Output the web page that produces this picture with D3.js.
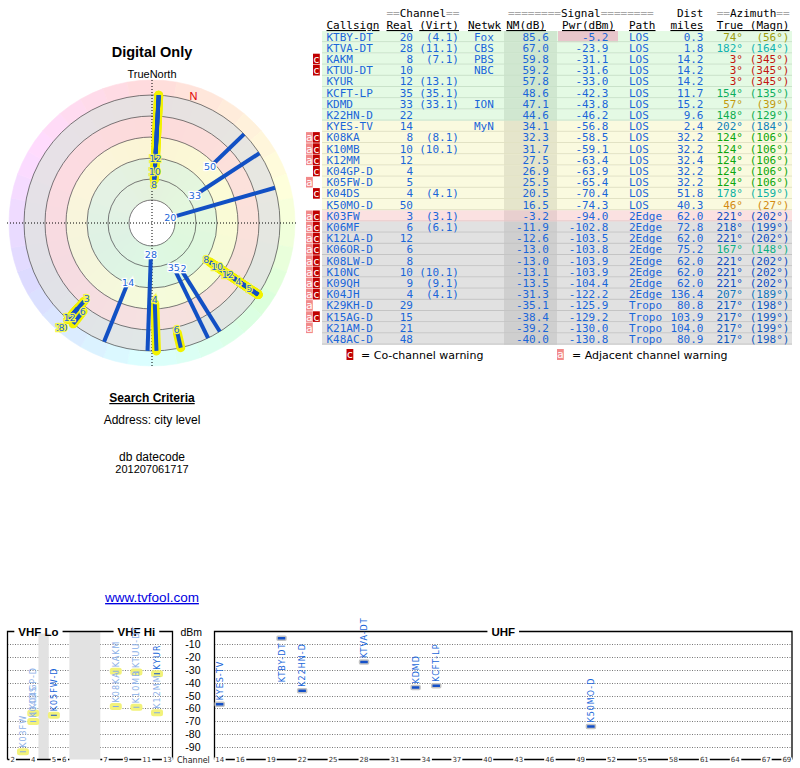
<!DOCTYPE html>
<html><head><meta charset="utf-8">
<script src="https://cdn.jsdelivr.net/npm/d3@7/dist/d3.min.js"></script>
<style>
html,body{margin:0;padding:0;background:#fff;}
svg{display:block;}
</style></head>
<body>
<svg id="chart" width="800" height="768"></svg>
<script>
// ================= DATA =================
const callsigns = ["KTBY-DT","KTVA-DT","KAKM","KTUU-DT","KYUR","KCFT-LP","KDMD","K22HN-D","KYES-TV","K08KA","K10MB","K12MM","K04GP-D","K05FW-D","K04DS","K50MO-D","K03FW","K06MF","K12LA-D","K06OR-D","K08LW-D","K10NC","K09QH","K04JH","K29KH-D","K15AG-D","K21AM-D","K48AC-D"];
const realCh = [20,28,8,10,12,35,33,22,14,8,10,12,4,5,4,50,3,6,12,6,8,10,9,4,29,15,21,48];
const virtCh = ["4.1","11.1","7.1","","13.1","35.1","33.1","","","8.1","10.1","","","","4.1","","3.1","6.1","","","","10.1","9.1","4.1","","","",""];
const networks = ["Fox","CBS","PBS","NBC","","","ION","","MyN","","","","","","","","","","","","","","","","","","",""];
const nmDb = [85.6,67.0,59.8,59.2,57.8,48.6,47.1,44.6,34.1,32.3,31.7,27.5,26.9,25.5,20.5,16.5,-3.2,-11.9,-12.6,-13.0,-13.0,-13.1,-13.5,-31.3,-35.1,-38.4,-39.2,-40.0];
const pwrDbm = [-5.2,-23.9,-31.1,-31.6,-33.0,-42.3,-43.8,-46.2,-56.8,-58.5,-59.1,-63.4,-63.9,-65.4,-70.4,-74.3,-94.0,-102.8,-103.5,-103.8,-103.9,-103.9,-104.4,-122.2,-125.9,-129.2,-130.0,-130.8];
const pathType = ["LOS","LOS","LOS","LOS","LOS","LOS","LOS","LOS","LOS","LOS","LOS","LOS","LOS","LOS","LOS","LOS","2Edge","2Edge","2Edge","2Edge","2Edge","2Edge","2Edge","2Edge","Tropo","Tropo","Tropo","Tropo"];
const distMiles = [0.3,1.8,14.2,14.2,14.2,11.7,15.2,9.6,2.4,32.2,32.2,32.4,32.2,32.2,51.8,40.3,62.0,72.8,62.0,75.2,62.0,62.0,62.0,136.4,80.8,103.9,104.0,80.9];
const azTrue = [74,182,3,3,3,154,57,148,202,124,124,124,124,124,178,46,221,218,221,167,221,221,221,207,217,217,217,217];
const azMagn = [56,164,345,345,345,135,39,129,184,106,106,106,106,106,159,27,202,199,202,148,202,202,202,189,198,199,199,198];
const warnFlags = ["","","c","c","","","","","","ac","ac","ac","c","a","c","","ac","ac","ac","ac","ac","ac","ac","ac","a","ac","a",""];

const ringTicksNM = [80.5,58.7,36.9,15.1,-6.7,-28.5];   // radial scale rings (NM dB)
const polarMinNM = -20;
const dbmTicks = [-10,-20,-30,-40,-50,-60,-70,-80,-90];
const vhfSlots = ["2","3","4","g1","5","6","f1","f2","f3","7","8","9","10","11","12","13"];
const vhfGapSlots = [["g1"],["f1","f2","f3"]];
const vhfBands = [{name:"VHF Lo", from:"2", to:"6"},{name:"VHF Hi", from:"7", to:"13"}];
const vhfTickLabels = ["2","4","5","6","7","9","11","13"];
const uhfChannels = d3.range(14,70);
const uhfTickLabels = [14,16,19,22,25,28,31,34,37,40,43,46,49,52,55,58,61,64,67,69];
const minShownDbm = -100;

// ================= SETUP =================
const svg = d3.select("#chart");
const SANS = "'Liberation Sans', Arial, sans-serif";
const DEJ = "'DejaVu Sans', sans-serif";
const MONO = "'DejaVu Sans Mono', monospace";
const BLUE = "#1a66d9";
const LINEBLUE = "#1250c4";

const st = callsigns.map((c,i)=>({c, ch:realCh[i], virt:virtCh[i], net:networks[i], nm:nmDb[i], pwr:pwrDbm[i],
  path:pathType[i], dist:distMiles[i], az:azTrue[i], azm:azMagn[i], flags:warnFlags[i]}));
const flaggedCh = new Set(st.filter(d=>d.flags).map(d=>d.ch));
st.forEach(d=>{ d.hl = flaggedCh.has(d.ch); d.cochan = d.flags.includes("c"); });

const hueOf = d3.scaleLinear().domain([0,74,124,360]).range([0,60,120,360]);
const lightOf = d3.scaleLinear().domain([0,40,60,90,130,180,230,360]).range([0.41,0.45,0.33,0.33,0.36,0.38,0.42,0.42]);
const azColor = a => { const h = hueOf(a); return d3.hsl(h,0.85,lightOf(h)).formatHex(); };

// ================= LEFT PANEL TEXT =================
svg.append("text").attr("x",152).attr("y",57).attr("text-anchor","middle").attr("font-family",SANS)
  .attr("font-weight","bold").attr("font-size","14.5px").text("Digital Only");
svg.append("text").attr("x",152).attr("y",78).attr("text-anchor","middle").attr("font-family",SANS)
  .attr("font-size","11px").text("TrueNorth");
svg.append("text").attr("x",152).attr("y",402).attr("text-anchor","middle").attr("font-family",SANS)
  .attr("font-weight","bold").attr("font-size","12px").attr("text-decoration","underline").text("Search Criteria");
svg.append("text").attr("x",152).attr("y",424).attr("text-anchor","middle").attr("font-family",SANS)
  .attr("font-size","12px").text("Address: city level");
svg.append("text").attr("x",152).attr("y",461).attr("text-anchor","middle").attr("font-family",SANS)
  .attr("font-size","12px").text("db datecode");
svg.append("text").attr("x",152).attr("y",473).attr("text-anchor","middle").attr("font-family",SANS)
  .attr("font-size","11px").text("201207061717");
svg.append("text").attr("x",152).attr("y",602).attr("text-anchor","middle").attr("font-family",SANS)
  .attr("font-size","13.5px").attr("fill","#0000e0").attr("text-decoration","underline").text("www.tvfool.com");

// ================= POLAR =================
const cx=152, cy=223;
const rScale = d3.scaleLinear().domain([ringTicksNM[0], ringTicksNM[ringTicksNM.length-1]]).range([23,128]).clamp(true);
const P = svg.append("g").attr("transform",`translate(${cx},${cy})`);
const rad = a => a*Math.PI/180;
const pt = (az,r)=>[r*Math.sin(rad(az)), -r*Math.cos(rad(az))];
const rOuter = rScale(ringTicksNM[ringTicksNM.length-1]);
const wheelR = rOuter + 15;
const wedge = d3.arc().innerRadius(0).outerRadius(wheelR);
P.selectAll(".wedge").data(d3.range(0,360,10)).join("path")
  .attr("d", a=>wedge({startAngle:rad(a), endAngle:rad(a+10)}))
  .attr("fill", a=>d3.hsl(hueOf(a+5),1,0.93))
  .attr("stroke", a=>d3.hsl(hueOf(a+5),1,0.93)).attr("stroke-width",0.6);
const bandArc = d3.arc();
const bandFill = ["#def7de","#def7de","#fafad4","#fbdada","#e2e2e2"];
P.selectAll(".band").data(d3.range(ringTicksNM.length-1)).join("path")
  .attr("d", i=>bandArc({innerRadius:rScale(ringTicksNM[i]), outerRadius:rScale(ringTicksNM[i+1]), startAngle:0, endAngle:2*Math.PI}))
  .attr("fill", i=>bandFill[i]).attr("opacity",0.82);
P.append("circle").attr("r", rScale(ringTicksNM[0])).attr("fill","#fff");
P.selectAll(".ring").data(ringTicksNM).join("circle").attr("r",d=>rScale(d))
  .attr("fill","none").attr("stroke","#444").attr("stroke-width",0.7);
P.append("line").attr("x1",-wheelR-2).attr("x2",wheelR+2).attr("y1",0).attr("y2",0)
  .attr("stroke","#000").attr("stroke-width",1).attr("stroke-dasharray","1,2");
P.append("line").attr("y1",-wheelR).attr("y2",wheelR+2).attr("x1",0).attr("x2",0)
  .attr("stroke","#000").attr("stroke-width",1).attr("stroke-dasharray","1,2");
// magnetic north marker
const decl = azTrue[0]-azMagn[0];
const np = pt(decl, rOuter+6);
P.append("text").attr("x",np[0]).attr("y",np[1]).attr("text-anchor","middle").attr("dominant-baseline","central")
  .attr("font-family",SANS).attr("font-size","11px").attr("fill","#e00000").text("N");

const vis = st.filter(d=>d.nm>=polarMinNM).map(d=>Object.assign({},d,{r:rScale(d.nm)}));
const byAz = vis.slice().sort((a,b)=>a.az-b.az || a.r-b.r);
const clusters = [];
byAz.forEach(d=>{ const last=clusters[clusters.length-1]; if(last && Math.abs(d.az-last[0].az)<=3) last.push(d); else clusters.push([d]); });
clusters.forEach(cl=>{ cl.sort((a,b)=>a.r-b.r); let prev=-1e9; cl.forEach(d=>{ d.lr=Math.min(138, Math.max(d.r-4, prev+13)); prev=d.lr; }); });

const seg = (az,r0,r1)=>{ const a=pt(az,r0), b=pt(az,r1); return `M${a[0]},${a[1]}L${b[0]},${b[1]}`; };
P.selectAll(".hlline").data(vis.filter(d=>d.hl)).join("path")
  .attr("d", d=>seg(d.az, d.r, rOuter)).attr("stroke","#f2f200").attr("stroke-width",9)
  .attr("stroke-linecap","round").attr("fill","none");
P.selectAll(".sline").data(vis).join("path")
  .attr("d", d=>seg(d.az, d.r, rOuter)).attr("stroke",LINEBLUE).attr("stroke-width",4).attr("fill","none");
P.selectAll(".slabel").data(vis.slice().reverse()).join("text")
  .attr("x", d=>pt(d.az,d.lr)[0]).attr("y", d=>pt(d.az,d.lr)[1])
  .attr("text-anchor","middle").attr("dominant-baseline","central")
  .attr("font-family",DEJ).attr("font-size","9.5px").attr("fill",BLUE)
  .attr("stroke", d=>d.hl ? "#f6f64a" : "#fff").attr("stroke-width",2.5).attr("paint-order","stroke")
  .text(d=>d.ch);

// ================= TABLE =================
const T = svg.append("g").attr("font-family",MONO).attr("font-size","11px");
const rowY = d3.scaleBand().domain(callsigns).range([31,344.6]);
const rh = rowY.bandwidth();
const rowClass = d => d.nm >= ringTicksNM[2] ? 0 : d.nm >= ringTicksNM[3] ? 1 : d.nm >= ringTicksNM[4] ? 2 : 3;
const rowFill = ["#e4fae4","#fafadf","#fbe1e1","#e1e1e1"];
const nmFill = ["#d0e7d0","#e5e5cb","#e8cfcf","#cfcfcf"];
const rowLine = ["#c9e2c9","#e2e2c4","#e4c8c8","#c4c4c4"];

T.selectAll(".rowbg").data(st).join("rect").attr("x",322).attr("width",470)
  .attr("y",d=>rowY(d.c)).attr("height",rh).attr("fill",d=>rowFill[rowClass(d)]);
T.selectAll(".nmbg").data(st).join("rect").attr("x",504).attr("width",53)
  .attr("y",d=>rowY(d.c)).attr("height",rh).attr("fill",d=>nmFill[rowClass(d)]);
T.selectAll(".pwrbg").data(st.filter(d=>d.pwr>-10)).join("rect").attr("x",558).attr("width",60)
  .attr("y",d=>rowY(d.c)).attr("height",rh).attr("fill","#e8c6cb");
T.selectAll(".rowline").data(st).join("line").attr("x1",322).attr("x2",792)
  .attr("y1",d=>rowY(d.c)+rh-0.5).attr("y2",d=>rowY(d.c)+rh-0.5)
  .attr("stroke",d=>rowLine[rowClass(d)]).attr("stroke-width",1);

// warning boxes
const warnBoxes = [];
st.forEach(d=>{ if(d.flags.includes("a")) warnBoxes.push({d, k:"a", x:306}); if(d.flags.includes("c")) warnBoxes.push({d, k:"c", x:313}); });
const boxFill = {a:"#f28a8a", c:"#c00000"};
T.selectAll(".wb").data(warnBoxes).join("rect").attr("x",b=>b.x).attr("width",6.8)
  .attr("y",b=>rowY(b.d.c)+0.3).attr("height",rh-0.6).attr("fill",b=>boxFill[b.k]);
T.selectAll(".wt").data(warnBoxes).join("text").attr("x",b=>b.x+3.4).attr("y",b=>rowY(b.d.c)+rh/2+4)
  .attr("text-anchor","middle").attr("fill","#fff").text(b=>b.k);

// header
const hdr1 = T.append("g");
function eqText(x, y, anchor, parts){
  const t = hdr1.append("text").attr("x",x).attr("y",y).attr("text-anchor",anchor);
  parts.forEach(p=>t.append("tspan").attr("fill", p.eq ? "#a8a8a8" : "#000").text(p.s));
  return t;
}
eqText(386.5, 17, "start", [{s:"==",eq:1},{s:"Channel"},{s:"==",eq:1}]);
eqText(508, 17, "start", [{s:"========",eq:1},{s:"Signal"},{s:"========",eq:1}]);
eqText(703.5, 17, "end", [{s:"Dist"}]);
eqText(716.7, 17, "start", [{s:"==",eq:1},{s:"Azimuth"},{s:"==",eq:1}]);
const hdr2 = [
  {s:"Callsign", x:326.5, a:"start"},{s:"Real", x:413, a:"end"},{s:"(Virt)", x:459, a:"end"},
  {s:"Netwk", x:468, a:"start"},{s:"NM(dB)", x:546, a:"end"},{s:"Pwr(dBm)", x:615, a:"end"},
  {s:"Path", x:629, a:"start"},{s:"miles", x:703.5, a:"end"},{s:"True (Magn)", x:789.5, a:"end"}];
T.selectAll(".h2").data(hdr2).join("text").attr("x",d=>d.x).attr("y",29).attr("text-anchor",d=>d.a)
  .attr("fill","#000").attr("text-decoration","underline").text(d=>d.s);

// body columns
const cols = [
  {x:326.5, a:"start", t:d=>d.c},
  {x:413, a:"end", t:d=>d.ch},
  {x:459, a:"end", t:d=>d.virt ? `(${d.virt})` : ""},
  {x:474, a:"start", t:d=>d.net},
  {x:549, a:"end", t:d=>d.nm.toFixed(1)},
  {x:608.5, a:"end", t:d=>d.pwr.toFixed(1)},
  {x:629, a:"start", t:d=>d.path},
  {x:703.5, a:"end", t:d=>d.dist.toFixed(1)},
  {x:743, a:"end", t:d=>d.az+"°", f:d=>azColor(d.az)},
  {x:789.5, a:"end", t:d=>`(${d.azm}°)`, f:d=>azColor(d.az)}
];
cols.forEach(col=>{
  T.append("g").selectAll("text").data(st.filter(d=>String(col.t(d))!=="")).join("text")
    .attr("x",col.x).attr("y",d=>rowY(d.c)+rh/2+4).attr("text-anchor",col.a)
    .attr("fill", d=>col.f ? col.f(d) : BLUE).text(col.t);
});

// legend
const L = svg.append("g");
L.append("rect").attr("x",346.5).attr("y",349).attr("width",6.8).attr("height",11).attr("fill",boxFill.c);
L.append("text").attr("x",349.9).attr("y",358).attr("text-anchor","middle").attr("font-family",MONO).attr("font-size","11px").attr("fill","#fff").text("c");
L.append("text").attr("x",361).attr("y",359).attr("font-family",DEJ).attr("font-size","11px").text("= Co-channel warning");
L.append("rect").attr("x",557).attr("y",349).attr("width",6.8).attr("height",11).attr("fill",boxFill.a);
L.append("text").attr("x",560.4).attr("y",358).attr("text-anchor","middle").attr("font-family",MONO).attr("font-size","11px").attr("fill","#fff").text("a");
L.append("text").attr("x",572).attr("y",359).attr("font-family",DEJ).attr("font-size","11px").text("= Adjacent channel warning");

// ================= CHANNEL CHART =================
const B = svg.append("g");
const yDb = d3.scaleLinear().domain([0,-100]).range([631.5,759.5]);
const xV = d3.scaleBand().domain(vhfSlots).range([7.5,172.5]);
const xU = d3.scaleBand().domain(uhfChannels).range([214.5,792]);
const bwV = xV.bandwidth(), bwU = xU.bandwidth();
const vL = xV.range()[0], vR = xV.range()[1], uL = xU.range()[0], uR = xU.range()[1];
const yTop = yDb(0), yBot = yDb(-100);

// gridlines
[[vL,vR],[uL,uR]].forEach(([a,b])=>{
  B.append("g").selectAll("line").data(dbmTicks).join("line")
    .attr("x1",a).attr("x2",b).attr("y1",d=>Math.round(yDb(d))+0.5).attr("y2",d=>Math.round(yDb(d))+0.5)
    .attr("stroke","#777").attr("stroke-width",1).attr("stroke-dasharray","1,1.5");
});
// gray gap bands
B.selectAll(".gap").data(vhfGapSlots).join("rect")
  .attr("x",g=>xV(g[0])).attr("width",g=>xV(g[g.length-1])+bwV-xV(g[0]))
  .attr("y",yTop).attr("height",yBot-yTop).attr("fill","#e2e2e2");
// frames
B.append("path").attr("d",`M${vL},${yBot}V${yTop}H${vR}V${yBot}`).attr("fill","none").attr("stroke","#000").attr("stroke-width",1.3);
B.append("path").attr("d",`M${uL},${yBot}V${yTop}H${uR}V${yBot}`).attr("fill","none").attr("stroke","#000").attr("stroke-width",1.3);
// bottom axis segments
const axSegs = vhfBands.map(b=>[xV(b.from), xV(b.to)+bwV]).concat([[uL,uR]]);
B.selectAll(".axseg").data(axSegs).join("line").attr("x1",s=>s[0]).attr("x2",s=>s[1])
  .attr("y1",yBot).attr("y2",yBot).attr("stroke","#000").attr("stroke-width",1.3);

// titles
function title(txt, x){
  const t = B.append("text").attr("x",x).attr("y",yTop+4.5).attr("text-anchor","middle")
    .attr("font-family",SANS).attr("font-weight","bold").attr("font-size","11.5px").text(txt);
  const bb = t.node().getBBox();
  B.insert("rect", () => t.node()).attr("x",bb.x-4).attr("y",yTop-2).attr("width",bb.width+8).attr("height",4).attr("fill","#fff");
}
vhfBands.forEach(b=>title(b.name, (xV(b.from)+xV(b.to)+bwV)/2));
title("UHF", (uL+uR)/2);

// dBm axis
B.append("text").attr("x",202).attr("y",yTop+4).attr("text-anchor","end").attr("font-family",SANS).attr("font-size","10.5px").text("dBm");
B.selectAll(".dbl").data(dbmTicks).join("text").attr("x",200.5).attr("y",d=>yDb(d)+4)
  .attr("text-anchor","end").attr("font-family",SANS).attr("font-size","10.5px").text(d=>d);

// channel tick labels
const tickData = vhfTickLabels.map(c=>({t:c, x:xV(c)+bwV/2})).concat(uhfTickLabels.map(c=>({t:c, x:xU(c)+bwU/2})));
const tg = B.append("g");
tickData.forEach(d=>{
  const t = tg.append("text").attr("x",d.x).attr("y",yBot+2.5).attr("text-anchor","middle")
    .attr("font-family",DEJ).attr("font-size","7px").attr("fill","#333").text(d.t);
  const bb = t.node().getBBox();
  tg.insert("rect", () => t.node()).attr("x",bb.x-1).attr("y",yBot-2).attr("width",bb.width+2).attr("height",4).attr("fill","#fff");
});
B.append("text").attr("x",177).attr("y",yBot+3).attr("font-family",DEJ).attr("font-size","8px").attr("fill","#222").text("Channel");

// bars + labels
const shown = st.filter(d=>d.pwr>=minShownDbm);
const xOf = d => d.ch<=13 ? xV(String(d.ch))+bwV/2 : xU(d.ch)+bwU/2;
B.selectAll(".bar").data(shown).join("rect")
  .attr("x",d=>xOf(d)-4.5).attr("width",9).attr("y",d=>yDb(d.pwr)-2).attr("height",4).attr("rx",1)
  .attr("fill",d=>d.cochan ? "#86ace6" : "#1450c8")
  .attr("stroke",d=>d.hl ? "#f2f27a" : "#c4c4c4").attr("stroke-width",d=>d.hl ? 3 : 1.5);
const lg = B.append("g");
shown.forEach(d=>{
  const x = xOf(d)+3, y = yDb(d.pwr);
  const t = lg.append("text").attr("font-family",DEJ).attr("font-size","8px").attr("letter-spacing","1px")
    .attr("fill", d.cochan ? "#8cb0e8" : BLUE).text(d.c);
  const len = t.node().getComputedTextLength();
  const start = (y-4-len < 612) ? y+44 : y-4;
  t.attr("transform",`translate(${x},${start}) rotate(-90)`);
});
</script>
</body></html>
